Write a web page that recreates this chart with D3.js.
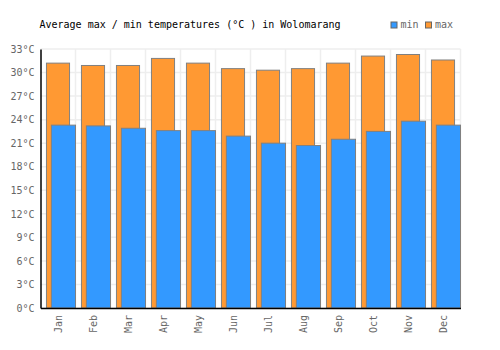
<!DOCTYPE html>
<html>
<head>
<meta charset="utf-8">
<script src="https://cdn.jsdelivr.net/npm/d3@7"></script>
<style>
	body { margin: 0; background: #fff; }
	text { font-family: "DejaVu Sans Mono", monospace; font-size: 10px; }
</style>
</head>
<body>
<div id="chart"></div>
<script>

var months = ["Jan","Feb","Mar","Apr","May","Jun","Jul","Aug","Sep","Oct","Nov","Dec"]
var max_temps = [31.2, 30.9, 30.9, 31.8, 31.2, 30.5, 30.3, 30.5, 31.2, 32.1, 32.3, 31.6]
var min_temps = [23.3, 23.2, 22.9, 22.6, 22.6, 21.9, 21.0, 20.7, 21.5, 22.5, 23.8, 23.3]
var y_ticks = [0, 3, 6, 9, 12, 15, 18, 21, 24, 27, 30, 33]

var width = 500, height = 350
var margin = {top: 49, left: 40.5, right: 39.5, bottom: 42}

var svg = d3.select("#chart").append("svg")
	.attr("width", width)
	.attr("height", height)

var x = d3.scaleBand().domain(months).range([margin.left, width - margin.right])
var y = d3.scaleLinear().domain([0, 33]).range([height - margin.bottom, margin.top])

// grid
svg.append("g").selectAll("line.h")
	.data(y_ticks)
	.enter().append("line")
	.attr("x1", margin.left).attr("x2", width - margin.right)
	.attr("y1", function(d) {return y(d)}).attr("y2", function(d) {return y(d)})
	.style("stroke", "#eeeeee").style("stroke-width", 1.5)

svg.append("g").selectAll("line.v")
	.data(months)
	.enter().append("line")
	.attr("x1", function(d) {return x(d) + x.bandwidth()})
	.attr("x2", function(d) {return x(d) + x.bandwidth()})
	.attr("y1", margin.top).attr("y2", height - margin.bottom)
	.style("stroke", "#eeeeee").style("stroke-width", 1.5)

// bars
var bw = x.bandwidth()
svg.append("g").selectAll("rect")
	.data(_zip(months, max_temps))
	.enter().append("rect")
	.attr("x", function(d) {return x(d[0]) + bw * 0.17})
	.attr("y", function(d) {return y(d[1])})
	.attr("width", bw * 0.66)
	.attr("height", function(d) {return y(0) - y(d[1])})
	.attr("fill", "#ff9933")
	.attr("stroke", "#808080")
	.attr("stroke-width", 1)

svg.append("g").selectAll("rect")
	.data(_zip(months, min_temps))
	.enter().append("rect")
	.attr("x", function(d) {return x(d[0]) + bw * 0.31})
	.attr("y", function(d) {return y(d[1])})
	.attr("width", bw * 0.69)
	.attr("height", function(d) {return y(0) - y(d[1])})
	.attr("fill", "#3399ff")
	.attr("stroke", "#808080")
	.attr("stroke-width", 1)

function _zip(a, b) {
	return a.map(function(d, i) {return [d, b[i]]})
}

// axes
var y_axis = svg.append("g")
	.attr("transform", "translate(" + margin.left + ",0)")
	.call(d3.axisLeft(y).tickValues(y_ticks).tickSize(0).tickPadding(6)
		.tickFormat(function(d) {return d + "°C"}))
y_axis.select(".domain").attr("stroke", "#000").attr("stroke-width", 1.5)
y_axis.selectAll("text").attr("fill", "#666").style("font-size", "10px")
	.style("font-family", "DejaVu Sans Mono, monospace")

var x_axis = svg.append("g")
	.attr("transform", "translate(0," + y(0) + ")")
	.call(d3.axisBottom(x).tickSize(0).tickPadding(0))
x_axis.select(".domain").attr("stroke", "#000").attr("stroke-width", 1.5)
x_axis.selectAll("text")
	.attr("fill", "#666")
	.style("font-size", "10px")
	.style("font-family", "DejaVu Sans Mono, monospace")
	.attr("text-anchor", "end")
	.attr("transform", "rotate(-90)")
	.attr("x", -7).attr("y", 0).attr("dy", "0.35em")
	.attr("dx", 0)

// title
svg.append("text")
	.attr("x", 39.5).attr("y", 28)
	.attr("fill", "#000")
	.text("Average max / min temperatures (°C ) in Wolomarang")

// legend
var legend_data = [["min", "#3399ff", 391], ["max", "#ff9933", 425.5]]
var legend = svg.append("g").selectAll("g")
	.data(legend_data)
	.enter().append("g")
legend.append("rect")
	.attr("x", function(d) {return d[2]}).attr("y", 22)
	.attr("width", 6).attr("height", 6)
	.attr("fill", function(d) {return d[1]})
	.attr("stroke", "#666").attr("stroke-width", 1)
legend.append("text")
	.attr("x", function(d) {return d[2] + 9.5}).attr("y", 28)
	.attr("fill", "#666")
	.text(function(d) {return d[0]})

</script>
</body>
</html>
